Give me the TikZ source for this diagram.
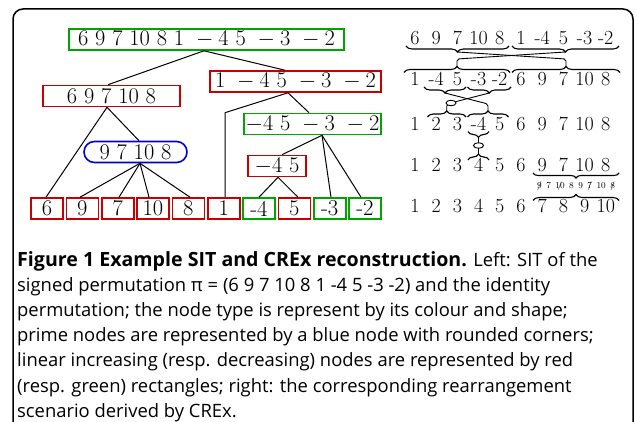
\documentclass[tikz,border=0pt]{standalone}
\usepackage{graphicx}
\usepackage{fontspec}
\newfontfamily\capfont{Open Sans}
\usetikzlibrary{decorations.pathreplacing,shapes.geometric}
\definecolor{sitred}{RGB}{200,0,0}
\definecolor{sitgreen}{RGB}{0,165,0}
\definecolor{sitblue}{RGB}{0,0,210}
\newcommand\strk[1]{\ooalign{\hfil#1\hfil\cr\hfil/\hfil\cr}}
\newcommand\tx[1]{\scalebox{1.08}{#1}}
\newcommand\capbf[1]{{\fontsize{19.6}{23}\selectfont\bfseries #1}}
\begin{document}
\begin{tikzpicture}[x=1pt,y=-1pt,
  tn/.style={draw, line width=1.6pt, minimum height=21pt, inner sep=0pt, font=\fontsize{21}{25}\selectfont},
  rn/.style={tn, draw=sitred},
  gn/.style={tn, draw=sitgreen},
  pn/.style={tn, draw=sitblue, rounded corners=10.5pt},
  lf/.style={minimum width=32pt},
  edge/.style={line width=1pt},
  tok/.style={inner sep=0pt, anchor=base, font=\fontsize{20}{24}\selectfont},
  ub/.style={decorate, decoration={brace, mirror, amplitude=6pt}, line width=1.1pt},
  ob/.style={decorate, decoration={brace, amplitude=6pt}, line width=1.1pt},
  conn/.style={line width=0.9pt, rounded corners=2pt},
  oval/.style={draw, ellipse, fill=white, line width=0.9pt, minimum width=10pt, minimum height=5.5pt, inner sep=0pt},
  capline/.style={anchor=base west, inner sep=0pt, font=\capfont\fontsize{18.4}{22}\selectfont},
]
\useasboundingbox (0,0) rectangle (637,422);
% frame
\draw[line width=1.5pt, rounded corners=10pt] (13,423) -- (13,9) -- (633,9) -- (633,423);

% tree nodes
\node[gn, minimum width=275pt] (root) at (206.5,39.5) {\tx{$6\ 9\ 7\ 10\ 8\ 1\ -4\ 5\ -3\ -2$}};
\node[rn, minimum width=137pt] (A) at (111.5,96) {\tx{$6\ 9\ 7\ 10\ 8$}};
\node[rn, minimum width=171pt] (B) at (295.5,81.5) {\tx{$1\ -4\ 5\ -3\ -2$}};
\node[gn, minimum width=137pt] (C) at (312.5,124) {\tx{$-4\ 5\ -3\ -2$}};
\node[pn, minimum width=103pt] (P) at (135.5,152) {\tx{$9\ 7\ 10\ 8$}};
\node[rn, minimum width=58pt] (D) at (277,166) {\tx{$-4\ 5$}};
\node[rn,lf] (l1) at (47,208.5) {\tx{$6$}};
\node[rn,lf] (l2) at (82.3,208.5) {\tx{$9$}};
\node[rn,lf] (l3) at (117.7,208.5) {\tx{$7$}};
\node[rn,lf] (l4) at (153,208.5) {\tx{$10$}};
\node[rn,lf] (l5) at (188.3,208.5) {\tx{$8$}};
\node[rn,lf] (l6) at (223.7,208.5) {\tx{$1$}};
\node[gn,lf] (l7) at (259,208.5) {\tx{-4}};
\node[rn,lf] (l8) at (294.3,208.5) {\tx{$5$}};
\node[gn,lf] (l9) at (329.7,208.5) {\tx{-3}};
\node[gn,lf] (l10) at (365,208.5) {\tx{-2}};

% tree edges
\draw[edge] ([xshift=-2.5pt]root.south) -- ([xshift=-3.5pt]A.north);
\draw[edge] ([xshift=-2.5pt]root.south) -- ([xshift=-10.5pt]B.north);
\draw[edge] ([xshift=-4.5pt]A.south) -- ([xshift=-1pt]l1.north);
\draw[edge] ([xshift=-4.5pt]A.south) -- ([xshift=3.5pt]P.north);
\draw[edge] ([xshift=4.5pt]P.south) -- ([xshift=-2.3pt]l2.north);
\draw[edge] ([xshift=4.5pt]P.south) -- ([xshift=1.3pt]l3.north);
\draw[edge] ([xshift=4.5pt]P.south) -- ([xshift=-4pt]l4.north);
\draw[edge] ([xshift=4.5pt]P.south) -- ([xshift=1.7pt]l5.north);
\coordinate (l6t) at ([xshift=1.3pt]l6.north);
\draw[edge] ([xshift=-7.5pt]B.south) -- (l6t |- C.north) -- (l6t);
\draw[edge] ([xshift=-7.5pt]B.south) -- ([xshift=-3.5pt]C.north);
\draw[edge] ([xshift=9.5pt]C.south) -- ([xshift=5pt]D.north);
\draw[edge] ([xshift=9.5pt]C.south) -- ([xshift=1.3pt]l9.north);
\draw[edge] ([xshift=9.5pt]C.south) -- ([xshift=-4pt]l10.north);
\draw[edge] ([xshift=1pt]D.south) -- (l7.north);
\draw[edge] ([xshift=1pt]D.south) -- ([xshift=3.7pt]l8.north);

% rearrangement scenario rows
\foreach \t [count=\i] in {6,9,7,10,8,1,-4,5,-3,-2}
  \node[tok] (a\i) at ({415+21.2*(\i-1)},45) {\t};
\foreach \t [count=\i] in {1,-4,5,-3,-2,6,9,7,10,8}
  \node[tok] (b\i) at ({415+21.2*(\i-1)},86) {\t};
\foreach \t [count=\i] in {1,2,3,-4,5,6,9,7,10,8}
  \node[tok] (c\i) at ({415+21.2*(\i-1)},130.5) {\t};
\foreach \t [count=\i] in {1,2,3,4,5,6,9,7,10,8}
  \node[tok] (d\i) at ({415+21.2*(\i-1)},172) {\t};
\foreach \t [count=\i] in {1,2,3,4,5,6,7,8,9,10}
  \node[tok] (e\i) at ({415+21.2*(\i-1)},213) {\t};

% braces
\draw[ub] (406,46) -- (509,46);
\draw[ub] (512,46) -- (619,46);
\draw[ob] (404,72.5) -- (510,72.5);
\draw[ob] (512,72.5) -- (620,72.5);
\draw[ub] (424,87) -- (466,87);
\draw[ub] (467.5,87) -- (511,87);
\draw[ob] (427.5,117) -- (466,117);
\draw[ob] (467.5,117) -- (508.5,117);
\draw[ub] (468,131.5) -- (489,131.5);
\draw[ob] (468,160) -- (489,160);
\draw[ub, decoration={amplitude=5pt}] (533,173) -- (619,173);
\draw[ob] (533,200.5) -- (619,200.5);

% brace tips
\coordinate (t1a) at (457.5,52);
\coordinate (t1b) at (565.5,52);
\coordinate (t2a) at (457,66.5);
\coordinate (t2b) at (566,66.5);
\coordinate (t2c) at (445,93);
\coordinate (t2d) at (489.25,93);
\coordinate (t3a) at (446.75,111);
\coordinate (t3b) at (488,111);
\coordinate (t3c) at (478.5,137.5);
\coordinate (t4a) at (478.5,154);

% connectors
\draw[conn] (t1a) -- (566,59) -- (t2b);
\draw[conn] (t1b) -- (457,59) -- (t2a);
\draw[conn] (t2c) -- (488,104) -- (t3b);
\draw[conn] (t2d) -- (446.75,104) -- (t3a);
\node[oval] (ov1) at (451,103) {};
\draw[conn] (t3c) -- (t4a);
\node[oval] (ov2) at (478.5,145.5) {};

\node[inner sep=0pt, anchor=base, font=\fontsize{9}{11}\selectfont] (tdrl) at (576,188.5)
  {\strk{9}\hspace{4.5pt}7\hspace{4.5pt}\strk{10}\hspace{4.5pt}8\hspace{4.5pt}9\hspace{4.5pt}\strk{7}\hspace{4.5pt}10\hspace{4.5pt}\strk{8}};

% caption
\node[capline] (cap1) at (17,266) {\capbf{Figure 1 Example SIT and CREx reconstruction.} Left: SIT of the};
\node[capline] (cap2) at (17,291.2) {signed permutation π = (6 9 7 10 8 1 -4 5 -3 -2) and the identity};
\node[capline] (cap3) at (17,316.4) {permutation; the node type is represent by its colour and shape;};
\node[capline] (cap4) at (17,341.6) {prime nodes are represented by a blue node with rounded corners;};
\node[capline] (cap5) at (17,366.8) {linear increasing (resp. decreasing) nodes are represented by red};
\node[capline] (cap6) at (17,392) {(resp. green) rectangles; right: the corresponding rearrangement};
\node[capline] (cap7) at (17,417.2) {scenario derived by CREx.};
\end{tikzpicture}
\end{document}
